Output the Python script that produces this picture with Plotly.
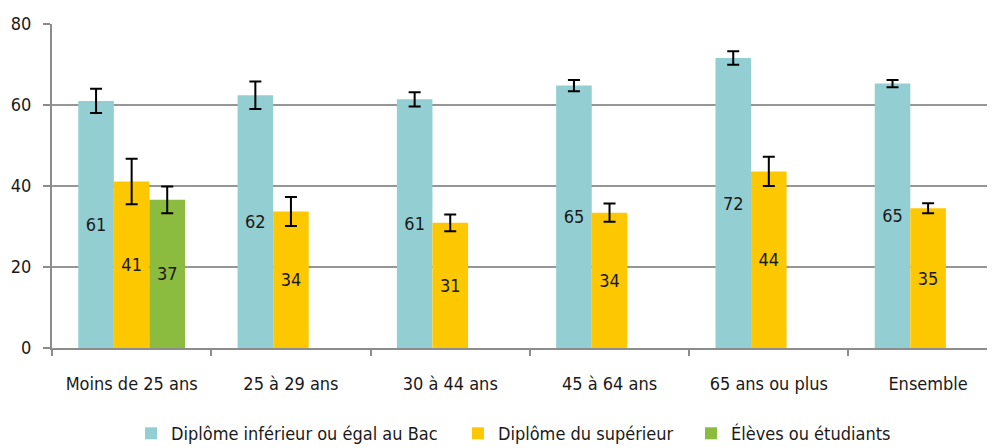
import plotly.graph_objects as go

categories = ["Moins de 25 ans", "25 à 29 ans", "30 à 44 ans", "45 à 64 ans", "65 ans ou plus", "Ensemble"]

bac_values = [61.0, 62.4, 61.4, 64.8, 71.6, 65.3]
bac_err = [3.0, 3.4, 1.75, 1.4, 1.65, 0.9]
bac_labels = ["61", "62", "61", "65", "72", "65"]

sup_values = [41.1, 33.7, 30.9, 33.4, 43.6, 34.5]
sup_err = [5.6, 3.6, 2.05, 2.25, 3.6, 1.25]
sup_labels = ["41", "34", "31", "34", "44", "35"]

eleve_cats = ["Moins de 25 ans"]
eleve_values = [36.6]
eleve_err = [3.3]
eleve_labels = ["37"]

yticks = [0, 20, 40, 60, 80]

FONT = "DejaVu Sans Condensed, Liberation Sans Narrow, sans-serif"
FS = 18
LFS = 18

fig = go.Figure()

def add(name, x, y, err, labels, color, legend):
    fig.add_trace(go.Bar(
        name=name, x=x, y=y, marker=dict(color=color, line=dict(width=0)),
        text=labels, textposition="inside", insidetextanchor="middle",
        textangle=0, textfont=dict(family=FONT, size=FS, color="#1a1a1a"),
        error_y=dict(type="data", array=err, visible=True, color="black", thickness=2, width=6),
        cliponaxis=False, legend=legend, showlegend=True,
    ))

add("Diplôme inférieur ou égal au Bac", categories, bac_values, bac_err, bac_labels, "#93CFD2", "legend")
add("Diplôme du supérieur", categories, sup_values, sup_err, sup_labels, "#FDC800", "legend2")
add("Élèves ou étudiants", eleve_cats, eleve_values, eleve_err, eleve_labels, "#8BBB3F", "legend3")

def leg(x):
    return dict(orientation="h", x=x, xanchor="left",
                yref="container", y=0.05, yanchor="middle",
                font=dict(family=FONT, size=LFS, color="#1a1a1a"),
                itemwidth=30, itemclick=False, bgcolor="rgba(0,0,0,0)", visible=True)

fig.update_layout(
    width=995, height=448,
    margin=dict(l=44, r=8, t=16, b=108),
    paper_bgcolor="white", plot_bgcolor="white",
    barmode="group", bargap=0.33, bargroupgap=0,
    font=dict(family=FONT, size=FS, color="#1a1a1a"),
    uniformtext=dict(mode=False),
    showlegend=True,
    legend=leg(0.0838), legend2=leg(0.4305), legend3=leg(0.6776),
    xaxis=dict(
        type="category", categoryorder="array", categoryarray=categories,
        range=[-0.5, 5.42], showline=True, linecolor="#8C8C8C", linewidth=2,
        ticks="outside", tickson="boundaries", ticklen=6, tickcolor="#8C8C8C", tickwidth=2,
        ticklabelstandoff=18,
        tickfont=dict(family=FONT, size=FS, color="#1a1a1a"), showgrid=False,
        automargin=False,
    ),
    yaxis=dict(
        range=[0, 80], tickvals=yticks, ticktext=[str(v) for v in yticks],
        showline=True, linecolor="#8C8C8C", linewidth=2,
        ticks="outside", ticklen=7, tickcolor="#8C8C8C", tickwidth=2,
        ticklabelstandoff=8,
        showgrid=True, gridcolor="#969696", gridwidth=1.5,
        zeroline=False, automargin=False,
        tickfont=dict(family=FONT, size=FS, color="#1a1a1a"),
    ),
)

fig.write_html("out.html")
